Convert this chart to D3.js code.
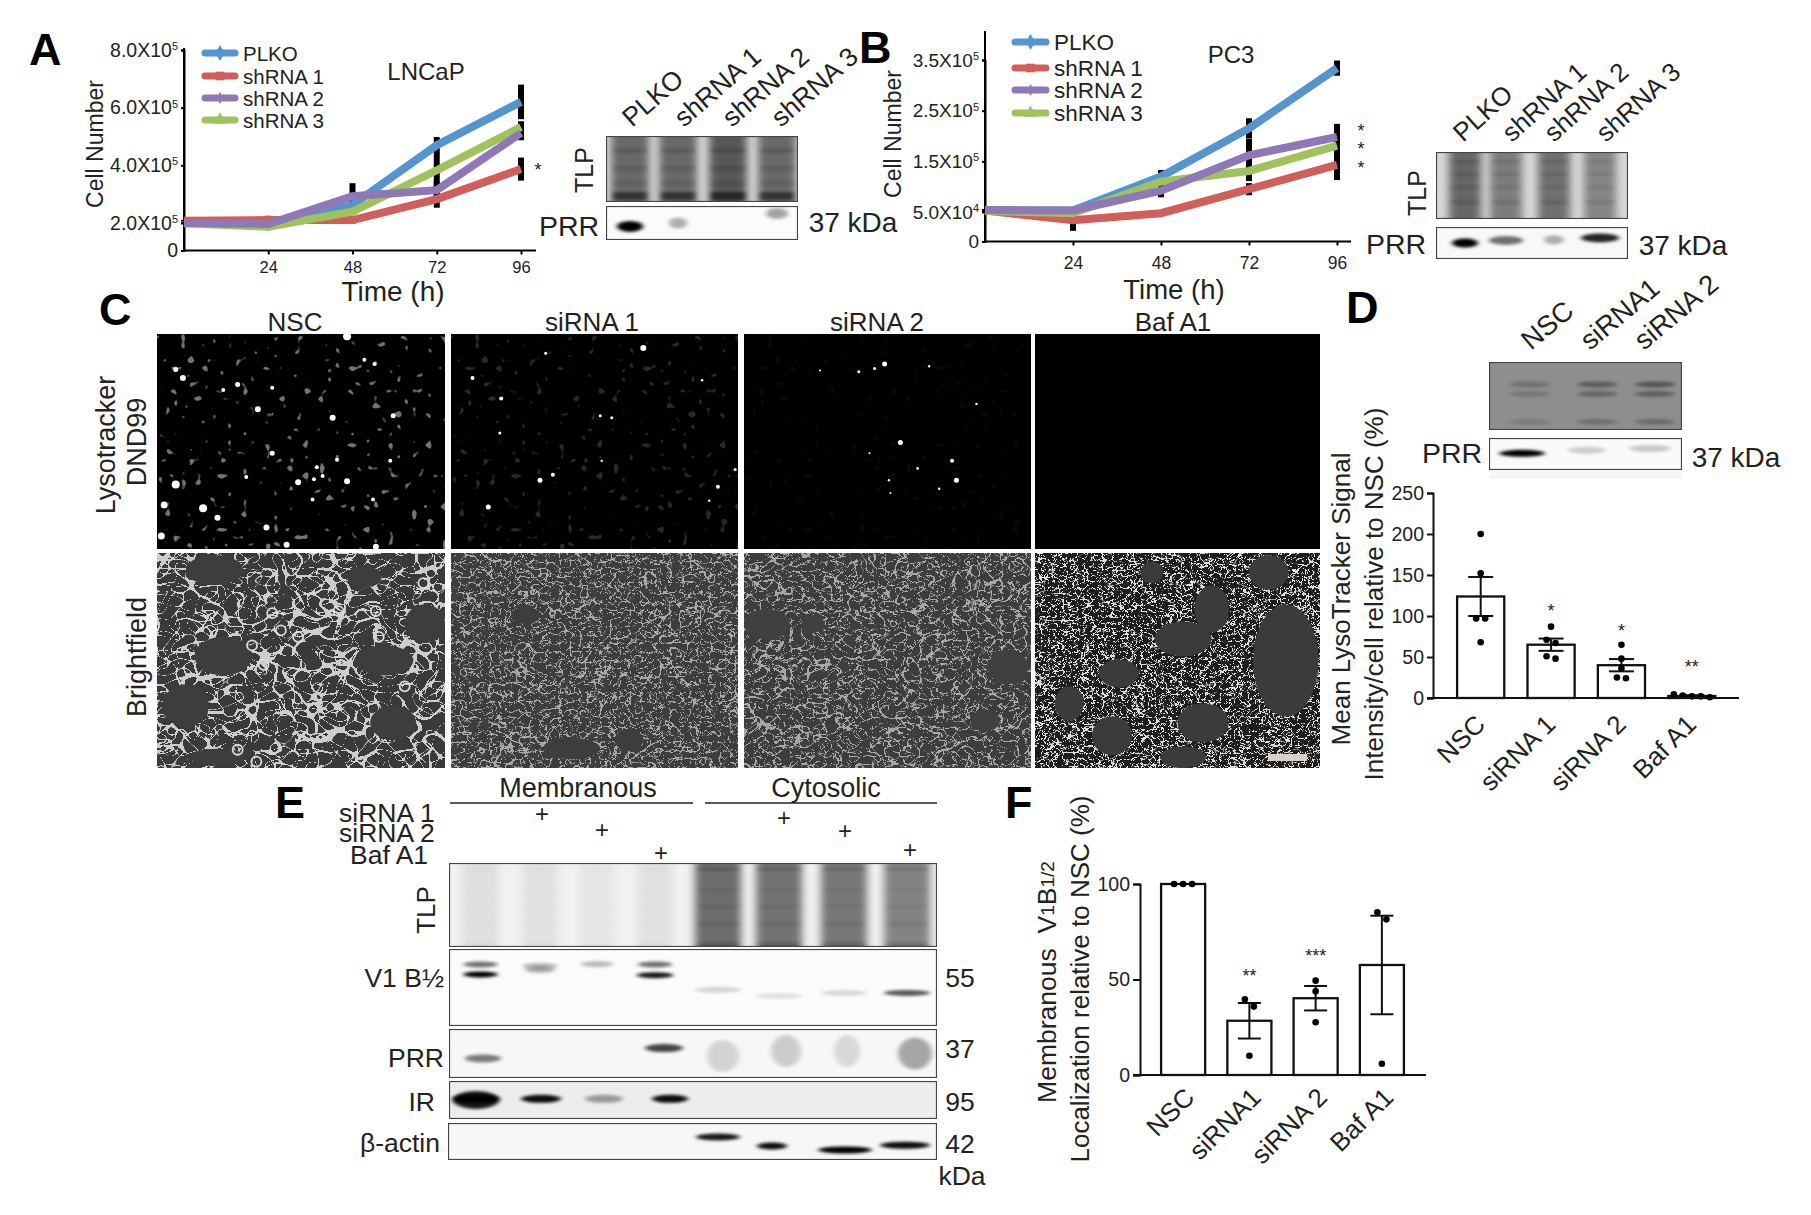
<!DOCTYPE html>
<html>
<head>
<meta charset="utf-8">
<script src="https://cdn.jsdelivr.net/npm/d3@7"></script>
<style>
body { margin: 0; background: #fff; }
text { font-family: "Liberation Sans", Arial, sans-serif; fill: #222; }
</style>
</head>
<body>
<div id="canva"></div>
<script>
// growth curves, values in units of 10^5 cells
const seriesNames = ["PLKO", "shRNA 1", "shRNA 2", "shRNA 3"];
const seriesColors = ["#5595cf", "#d05f5b", "#8f78b6", "#a0c25c"];
const hours = [0, 24, 48, 72, 96];
const hourLabels = [24, 48, 72, 96];

const lncapPlko = [2.0, 1.95, 2.62, 4.7, 6.2];
const lncapSh1 = [2.08, 2.1, 2.1, 2.83, 3.87];
const lncapSh2 = [2.0, 1.93, 2.93, 3.14, 5.12];
const lncapSh3 = [1.98, 1.73, 2.39, 3.83, 5.33];
const lncapPlkoErr = [0.03, 0.05, 0.15, 0.28, 0.6];
const lncapSh1Err = [0.03, 0.15, 0.14, 0.3, 0.4];
const lncapSh2Err = [0.03, 0.1, 0.45, 0.3, 0.25];
const lncapSh3Err = [0.03, 0.25, 0.1, 0.6, 0.2];
const lncapTicks = [0, 2, 4, 6, 8];
const lncapTickText = ["0", "2.0X10", "4.0X10", "6.0X10", "8.0X10"];
const lncapTickExp = ["", "5", "5", "5", "5"];
const lncapStars = [3.85];

const pc3Plko = [0.53, 0.53, 1.2, 2.15, 3.34];
const pc3Sh1 = [0.53, 0.36, 0.48, 0.95, 1.43];
const pc3Sh2 = [0.54, 0.53, 0.92, 1.62, 1.98];
const pc3Sh3 = [0.52, 0.48, 1.1, 1.31, 1.81];
const pc3PlkoErr = [0.02, 0.03, 0.13, 0.2, 0.15];
const pc3Sh1Err = [0.02, 0.18, 0.05, 0.12, 0.3];
const pc3Sh2Err = [0.02, 0.03, 0.13, 0.32, 0.26];
const pc3Sh3Err = [0.02, 0.03, 0.05, 0.2, 0.3];
const pc3Ticks = [0, 0.5, 1.5, 2.5, 3.5];
const pc3TickText = ["0", "5.0X10", "1.5X10", "2.5X10", "3.5X10"];
const pc3TickExp = ["", "4", "5", "5", "5"];
const pc3Stars = [2.09, 1.75, 1.36];

// bar panels
const lysoGroups = ["NSC", "siRNA 1", "siRNA 2", "Baf A1"];
const lysoMeans = [123.8, 65, 40, 2.4];
const lysoErr = [23.8, 7.5, 7.5, 1];
const lysoDots = [[200, 152, 97, 97, 68], [87, 71, 67, 51, 48], [65, 48, 36, 25, 24], [4.5, 3, 2, 2, 1]];
const lysoStars = [null, 105.5, 82, 38];
const lysoStarText = ["", "*", "*", "**"];
const lysoTicks = [0, 50, 100, 150, 200, 250];

const memGroups = ["NSC", "siRNA1", "siRNA 2", "Baf A1"];
const memMeans = [100, 28.4, 40.2, 57.6];
const memErr = [0, 9.3, 6.4, 25.8];
const memDots = [[100, 100, 100], [39.6, 35.8, 10.1], [49.4, 43.8, 27.6], [85.2, 81.5, 5.9]];
const memStars = [null, 52, 62.5, null];
const memStarText = ["", "**", "***", ""];
const memTicks = [0, 50, 100];

// band strength per lane (0 = nothing, 1 = black)
const aPrrBands = [1, 0.3, 0, 0.35];
const bPrrBands = [1, 0.55, 0.3, 0.85];
const dPrrBands = [1, 0.18, 0.2];
const aTlpLanes = [0.52, 0.52, 0.6, 0.52];
const bTlpLanes = [0.52, 0.42, 0.48, 0.38];
const dTlpBands = [0.2, 0.35, 0.4];
const eTlpLanes = [0.07, 0.06, 0.04, 0.06, 0.55, 0.52, 0.5, 0.45];
const eV1Lower = [1, 0.3, 0.15, 0.9, 0.15, 0.1, 0.13, 0.65];
const eV1Upper = [0.55, 0.28, 0.12, 0.55, 0, 0, 0, 0];
const ePrrMem = [0.5, 0, 0, 0.72];
const ePrrCyt = [0.14, 0.17, 0.12, 0.32];
const eIrBands = [1, 0.95, 0.35, 0.95, 0, 0, 0, 0];
const eActinBands = [0.9, 0.95, 1, 0.95];

const nscSpots = [[.09,.205,3],[.065,.165,2.5],[.23,.26,2],[.28,.235,2.5],[.4,.25,2],[.35,.35,3],[.61,.39,3],[.82,.38,2.5],[.72,.12,2],[.755,.14,2],[.4,.555,2.5],[.49,.69,3],[.555,.62,2],[.575,.66,2],[.625,.585,2],[.66,.685,3],[.545,.675,2],[.065,.7,4],[.025,.795,3.5],[.16,.81,4],[.21,.855,3],[.38,.9,3],[.015,.94,3.5],[.75,.77,2],[.54,.77,2],[.31,.665,2],[.81,.59,2],[.66,.01,4],[.45,.98,3],[.76,.99,3]];
const si1Spots = [[.67,.065,3],[.075,.205,2],[.175,.3,2],[.52,.38,1.5],[.56,.39,1.5],[.31,.68,2.5],[.355,.655,2],[.13,.805,2.5],[.93,.71,2],[.875,.215,1.2],[.525,.59,1.2],[.99,.63,1.5],[.17,.46,1.5],[.9,.775,1.2],[.33,.09,1.5]];
const si2Spots = [[.49,.14,2.5],[.455,.16,1.5],[.4,.175,1.5],[.645,.15,1.2],[.265,.17,1],[.545,.505,2.5],[.725,.59,2],[.74,.68,2.5],[.81,.325,1.2],[.605,.625,1.3],[.505,.68,1.2],[.51,.74,1],[.68,.72,1.2],[.437,.555,1]];
const nscVoids = [[.2,.08,.1,.07],[.23,.48,.1,.09],[.79,.5,.1,.07],[.93,.33,.07,.09],[.1,.71,.08,.1],[.82,.79,.08,.08],[.72,.11,.06,.05],[.21,.95,.1,.04]];
const si1Voids = [[.26,.29,.05,.04],[.42,.91,.1,.05],[.62,.87,.05,.05]];
const si2Voids = [[.08,.33,.08,.07],[.92,.53,.07,.08],[.84,.78,.05,.05],[.24,.33,.04,.04]];
const bafVoids = [[.88,.5,.115,.26],[.62,.26,.06,.11],[.52,.4,.1,.08],[.295,.56,.07,.065],[.12,.7,.05,.08],[.27,.85,.07,.09],[.59,.79,.09,.09],[.52,.95,.08,.05],[.82,.09,.07,.08],[.41,.09,.04,.05]];
const nscRings = [[.63,.27],[.43,.36],[.4,.28],[.49,.39],[.76,.27],[.86,.62],[.33,.43],[.37,.52],[.28,.915],[.345,.97],[.925,.14],[.77,.39]];

const svg = d3.select("#canva").append("svg").attr("width", 1811).attr("height", 1215);
const defs = svg.append("defs");

function blurFilter(id, sx, sy) {
    defs.append("filter").attr("id", id).attr("x", "-50%").attr("y", "-50%").attr("width", "200%").attr("height", "200%")
        .append("feGaussianBlur").attr("stdDeviation", sx + " " + sy);
}
blurFilter("soft", 0.7, 0.7);
blurFilter("band", 2.5, 1.4);
blurFilter("smear", 4, 3);

// two crossed noise fields, their zero lines read as cell outlines
function meshFilter(id, freq, seed, k) {
    const f = defs.append("filter").attr("id", id).attr("x", 0).attr("y", 0).attr("width", "100%").attr("height", "100%")
        .attr("color-interpolation-filters", "sRGB");
    const toOpaque = "1 0 0 0 0  1 0 0 0 0  1 0 0 0 0  0 0 0 0 1";
    f.append("feTurbulence").attr("type", "turbulence").attr("baseFrequency", freq).attr("numOctaves", 1).attr("seed", seed);
    f.append("feColorMatrix").attr("values", toOpaque).attr("result", "a");
    f.append("feTurbulence").attr("type", "turbulence").attr("baseFrequency", `${freq * 0.73} ${freq * 1.21}`).attr("numOctaves", 1).attr("seed", seed + 7);
    f.append("feColorMatrix").attr("values", toOpaque).attr("result", "c");
    f.append("feBlend").attr("in", "a").attr("in2", "c").attr("mode", "darken");
    f.append("feColorMatrix").attr("values", `0 0 0 0 1  0 0 0 0 1  0 0 0 0 1  ${-k} 0 0 0 1`);
}
meshFilter("mesh1", 0.05, 3, 55);
meshFilter("mesh2", 0.1, 5, 42);
meshFilter("mesh3", 0.085, 8, 42);
meshFilter("mesh4", 0.14, 11, 26);

const speck = defs.append("filter").attr("id", "speck").attr("x", 0).attr("y", 0).attr("width", "100%").attr("height", "100%")
    .attr("color-interpolation-filters", "sRGB");
speck.append("feTurbulence").attr("type", "fractalNoise").attr("baseFrequency", 0.13).attr("numOctaves", 1).attr("seed", 4);
speck.append("feColorMatrix").attr("values", "0 0 0 0 1  0 0 0 0 1  0 0 0 0 1  14 0 0 0 -9.2");
speck.append("feGaussianBlur").attr("stdDeviation", 0.6);

function label(g, text, x, y, size, opts) {
    const o = opts || {};
    const t = g.append("text").attr("font-size", size).attr("text-anchor", o.anchor || "middle")
        .attr("dominant-baseline", o.base || "central").text(text);
    t.attr("transform", `translate(${x},${y})` + (o.rotate ? ` rotate(${o.rotate})` : ""));
    if (o.weight) t.attr("font-weight", o.weight);
    return t;
}

function panelLetter(text, x, y) {
    label(svg, text, x, y, 45, { anchor: "start", base: "auto", weight: "bold" }).style("fill", "#000");
}

// ---- growth curves ----
function growthChart(c) {
    const g = svg.append("g");
    const x = d3.scaleLinear().domain([0, 96]).range([c.left, c.right]);
    const y = d3.scaleLinear().domain(c.yDomain).range(c.yRange);

    const yAxis = g.append("g").attr("transform", `translate(${c.left},0)`)
        .call(d3.axisLeft(y).tickValues(c.ticks).tickSize(3).tickPadding(3).tickFormat(""));
    yAxis.selectAll(".tick text").each(function (d, i) {
        const t = d3.select(this).attr("font-size", c.tickSize).text(c.tickText[i]);
        if (c.tickExp[i]) t.append("tspan").attr("font-size", 11).attr("dy", "-0.6em").text(c.tickExp[i]);
    });
    g.append("line").attr("x1", c.left).attr("x2", c.left).attr("y1", c.axisTop).attr("y2", c.yRange[0]);

    const xAxis = g.append("g").attr("transform", `translate(0,${c.yRange[0]})`)
        .call(d3.axisBottom(x).tickValues(hourLabels).tickSize(4).tickPadding(c.xPad));
    xAxis.selectAll("text").attr("font-size", c.xTickSize);
    xAxis.select(".domain").remove();
    g.append("line").attr("x1", c.left).attr("x2", c.axisEnd).attr("y1", c.yRange[0]).attr("y2", c.yRange[0]);
    g.selectAll("line, path.domain").attr("stroke", "#000").attr("stroke-width", 2);

    c.values.forEach((vals, s) => {
        g.append("g").selectAll("line").data(hours).enter().append("line")
            .attr("x1", d => x(d)).attr("x2", d => x(d))
            .attr("y1", (d, i) => y(vals[i] - c.errors[s][i]))
            .attr("y2", (d, i) => y(vals[i] + c.errors[s][i]))
            .attr("stroke", "#000").attr("stroke-width", 6);
    });

    const line = d3.line().x((d, i) => x(hours[i])).y(d => y(d));
    [0, 1, 3, 2].forEach(s => {
        g.append("path").attr("d", line(c.values[s])).attr("fill", "none")
            .attr("stroke", seriesColors[s]).attr("stroke-width", 8).attr("stroke-linejoin", "miter");
    });

    const symbols = [d3.symbolDiamond, d3.symbolSquare, d3.symbolAsterisk, d3.symbolTriangle];
    seriesNames.forEach((name, s) => {
        const ly = c.legendY[s];
        g.append("line").attr("x1", c.legendX).attr("x2", c.legendX + c.legendW).attr("y1", ly).attr("y2", ly)
            .attr("stroke", seriesColors[s]).attr("stroke-width", 7).attr("stroke-linecap", "round");
        g.append("path").attr("d", d3.symbol().type(symbols[s]).size(75)())
            .attr("transform", `translate(${c.legendX + c.legendW / 2},${ly})`)
            .attr("fill", seriesColors[s]).attr("stroke", seriesColors[s]).attr("stroke-width", s === 2 ? 2 : 0);
        label(g, name, c.legendX + c.legendW + 8, ly, c.legendSize, { anchor: "start" });
    });

    label(g, c.title, c.titleX, c.titleY, 24);
    label(g, "Cell Number", c.yTitleX, c.yTitleY, 23, { rotate: -90 });
    label(g, "Time (h)", c.xTitleX, c.xTitleY, c.xTitleSize);
    c.stars.forEach(v => label(g, "*", x(96) + c.starDx, y(v), 18));
}

growthChart({
    left: 184, right: 521, axisEnd: 536, axisTop: 48, yDomain: [0, 2, 8], yRange: [250.5, 223, 50],
    ticks: lncapTicks, tickText: lncapTickText, tickExp: lncapTickExp, tickSize: 19.5, xTickSize: 16.5, xPad: 7,
    values: [lncapPlko, lncapSh1, lncapSh2, lncapSh3], errors: [lncapPlkoErr, lncapSh1Err, lncapSh2Err, lncapSh3Err],
    legendX: 205, legendW: 30, legendY: [53, 76, 98, 120], legendSize: 20.5,
    title: "LNCaP", titleX: 426, titleY: 71, yTitleX: 95, yTitleY: 144, xTitleX: 393, xTitleY: 291, xTitleSize: 28,
    stars: lncapStars, starDx: 17
});
growthChart({
    left: 985, right: 1337, axisEnd: 1351, axisTop: 31, yDomain: [0, 0.5, 3.5], yRange: [241.5, 212, 60],
    ticks: pc3Ticks, tickText: pc3TickText, tickExp: pc3TickExp, tickSize: 19, xTickSize: 17.5, xPad: 11,
    values: [pc3Plko, pc3Sh1, pc3Sh2, pc3Sh3], errors: [pc3PlkoErr, pc3Sh1Err, pc3Sh2Err, pc3Sh3Err],
    legendX: 1015, legendW: 31, legendY: [42, 68, 90, 113], legendSize: 22.5,
    title: "PC3", titleX: 1231, titleY: 54, yTitleX: 893, yTitleY: 134, xTitleX: 1174, xTitleY: 289, xTitleSize: 27.5,
    stars: pc3Stars, starDx: 24
});

// ---- blots ----
function blotFrame(x0, y0, w, h, bg, border) {
    const outer = svg.append("svg").attr("x", x0).attr("y", y0).attr("width", w).attr("height", h);
    outer.append("rect").attr("width", w).attr("height", h).attr("fill", bg);
    outer.border = () => outer.append("rect").attr("x", 0.5).attr("y", 0.5).attr("width", w - 1).attr("height", h - 1)
        .attr("fill", "none").attr("stroke", border || "#444").attr("stroke-width", 1.2);
    outer.boxX = x0; outer.boxY = y0; outer.boxW = w; outer.boxH = h;
    return outer;
}

function bands(blot, laneX, strengths, fy, bw, bh, filter) {
    const x = d3.scaleLinear().domain([blot.boxX, blot.boxX + blot.boxW]).range([0, blot.boxW]);
    const y = d3.scaleLinear().domain([0, 1]).range([0, blot.boxH]);
    blot.append("g").selectAll("ellipse").data(strengths).enter().append("ellipse")
        .attr("cx", (d, i) => x(laneX[i]))
        .attr("cy", (d, i) => y(Array.isArray(fy) ? fy[i] : fy))
        .attr("rx", (d, i) => Array.isArray(bw) ? bw[i] / 2 : bw / 2).attr("ry", bh / 2)
        .attr("fill", "#000").attr("opacity", d => d)
        .attr("filter", `url(#${filter || "band"})`);
}

function smearLanes(blot, laneX, strengths, laneW, stripes) {
    const x = d3.scaleLinear().domain([blot.boxX, blot.boxX + blot.boxW]).range([0, blot.boxW]);
    const y = d3.scaleLinear().domain([0, 1]).range([0, blot.boxH]);
    const w = i => Array.isArray(laneW) ? laneW[i] : laneW;
    blot.append("g").selectAll("rect").data(strengths).enter().append("rect")
        .attr("x", (d, i) => x(laneX[i]) - w(i) / 2).attr("width", (d, i) => w(i))
        .attr("y", -10).attr("height", blot.boxH + 20)
        .attr("fill", "#000").attr("opacity", d => d).attr("filter", "url(#smear)");
    stripes.forEach(s => {
        blot.append("g").selectAll("rect").data(strengths).enter().append("rect")
            .attr("x", (d, i) => x(laneX[i]) - w(i) / 2 + 2).attr("width", (d, i) => w(i) - 4)
            .attr("y", y(s[0])).attr("height", s[2])
            .attr("fill", "#000").attr("opacity", d => d * s[1]).attr("filter", "url(#band)");
    });
}

// panel A blots
const aLanes = [630, 678, 728, 777];
let b = blotFrame(606, 136, 192, 66, "#dcdcdc");
smearLanes(b, aLanes, aTlpLanes, 38, [[0.18, 0.25, 5], [0.45, 0.2, 5], [0.68, 0.15, 5], [0.85, 0.95, 8]]);
b.border();
b = blotFrame(606, 206, 192, 34, "#fbfbfb");
bands(b, aLanes, aPrrBands, [0.6, 0.5, 0.5, 0.22], [26, 18, 10, 22], 11);
b.border();
[["PLKO", 632], ["shRNA 1", 684], ["shRNA 2", 732], ["shRNA 3", 781]].forEach(d => label(svg, d[0], d[1], 128, 26.5, { anchor: "start", base: "auto", rotate: -41 }));
label(svg, "TLP", 584, 170, 25, { rotate: -90 });
label(svg, "PRR", 569, 226, 28.5);
label(svg, "37 kDa", 853, 222, 28);

// panel B blots
const bLanes = [1465, 1506, 1554, 1600];
b = blotFrame(1436, 152, 192, 67, "#d8d8d8");
smearLanes(b, bLanes, bTlpLanes, 32, [[0.12, 0.2, 4], [0.3, 0.2, 4], [0.5, 0.2, 4], [0.72, 0.25, 4]]);
b.border();
b = blotFrame(1436, 227, 192, 32, "#f8f8f8");
bands(b, bLanes, bPrrBands, [0.5, 0.42, 0.4, 0.34], [26, 34, 20, 38], 9);
b.border();
[["PLKO", 1463], ["shRNA 1", 1512], ["shRNA 2", 1554], ["shRNA 3", 1606]].forEach(d => label(svg, d[0], d[1], 143, 26, { anchor: "start", base: "auto", rotate: -42 }));
label(svg, "TLP", 1417, 193, 25, { rotate: -90 });
label(svg, "PRR", 1396, 244, 28.5);
label(svg, "37 kDa", 1683, 245, 28);

// ---- micrographs ----
function micrograph(x0, y0, w, h, bg, draw) {
    const m = svg.append("svg").attr("x", x0).attr("y", y0).attr("width", w).attr("height", h);
    m.append("rect").attr("width", w).attr("height", h).attr("fill", bg);
    const fx = d3.scaleLinear().domain([0, 1]).range([0, w]);
    const fy = d3.scaleLinear().domain([0, 1]).range([0, h]);
    draw(m, fx, fy);
}

function fluorescence(spots, speckle) {
    return (m, fx, fy) => {
        if (speckle) m.append("rect").attr("width", "100%").attr("height", "100%").attr("fill", "#fff")
            .attr("filter", "url(#speck)").attr("opacity", speckle);
        m.append("g").selectAll("circle").data(spots).enter().append("circle")
            .attr("cx", d => fx(d[0])).attr("cy", d => fy(d[1])).attr("r", d => d[2])
            .attr("fill", "#fff").attr("filter", "url(#soft)");
    };
}

function brightfield(filterId, opacity, voids, voidFill, rings) {
    return (m, fx, fy) => {
        m.append("rect").attr("width", "100%").attr("height", "100%").attr("fill", "#fff")
            .attr("filter", `url(#${filterId})`).attr("opacity", opacity);
        m.append("g").selectAll("ellipse").data(voids).enter().append("ellipse")
            .attr("cx", d => fx(d[0])).attr("cy", d => fy(d[1]))
            .attr("rx", d => fx(d[2])).attr("ry", d => fy(d[3]))
            .attr("fill", voidFill).attr("filter", "url(#soft)");
        if (rings) m.append("g").selectAll("circle").data(rings).enter().append("circle")
            .attr("cx", d => fx(d[0])).attr("cy", d => fy(d[1])).attr("r", 5)
            .attr("fill", "none").attr("stroke", "#ddd").attr("stroke-width", 1.8);
    };
}

micrograph(157, 334, 288, 215, "#000", fluorescence(nscSpots, 0.45));
micrograph(451, 334, 287, 215, "#000", fluorescence(si1Spots, 0.16));
micrograph(744, 334, 287, 215, "#000", fluorescence(si2Spots, 0.03));
micrograph(1035, 334, 285, 215, "#000", fluorescence([], 0));
micrograph(157, 553, 288, 215, "#3a3a3a", brightfield("mesh1", 0.75, nscVoids, "#3c3c3c", nscRings));
micrograph(451, 553, 287, 215, "#3d3d3d", brightfield("mesh2", 0.55, si1Voids, "#3d3d3d"));
micrograph(744, 553, 287, 215, "#3d3d3d", brightfield("mesh3", 0.55, si2Voids, "#3f3f3f"));
micrograph(1035, 553, 285, 215, "#1d1d1d", brightfield("mesh4", 0.85, bafVoids, "#3b3b3b"));
svg.append("rect").attr("x", 1268).attr("y", 754).attr("width", 39).attr("height", 7).attr("fill", "#d8cfc8");

label(svg, "NSC", 295, 322, 26);
label(svg, "siRNA 1", 592, 322, 26);
label(svg, "siRNA 2", 877, 322, 26);
label(svg, "Baf A1", 1173, 322, 26);
label(svg, "Lysotracker", 106, 445, 27, { rotate: -90 });
label(svg, "DND99", 137, 442, 27, { rotate: -90 });
label(svg, "Brightfield", 137, 657, 27, { rotate: -90 });

// panel D blots
const dLanes = [1530, 1597, 1655];
b = blotFrame(1489, 362, 193, 68, "#8e8e8e");
[[0.33, 1], [0.47, 0.8], [0.88, 0.6]].forEach(s => bands(b, dLanes, dTlpBands.map(v => v * s[1]), s[0], [40, 40, 40], 6));
b.border("#555");
svg.append("rect").attr("x", 1489).attr("y", 470).attr("width", 193).attr("height", 9).attr("fill", "#f6f6f6");
b = blotFrame(1489, 438, 193, 32, "#fafafa");
bands(b, [1522, 1587, 1650], dPrrBands, [0.48, 0.38, 0.33], [46, 38, 42], 7);
b.border();
[["NSC", 1531], ["siRNA1", 1590], ["siRNA 2", 1644]].forEach(d => label(svg, d[0], d[1], 351, 27.5, { anchor: "start", base: "auto", rotate: -40 }));
label(svg, "PRR", 1452, 453, 28.5);
label(svg, "37 kDa", 1736, 457, 28);

// ---- bar panels ----
function barChart(c) {
    const g = svg.append("g");
    const x = d3.scaleBand().domain(c.groups).range(c.xRange).paddingInner(c.pad).paddingOuter(c.pad / 2);
    const y = d3.scaleLinear().domain(c.yDomain).range(c.yRange);

    const cx = d => x(d) + x.bandwidth() / 2;
    g.selectAll("rect.bar").data(c.groups).enter().append("rect").attr("class", "bar")
        .attr("x", d => x(d)).attr("width", x.bandwidth())
        .attr("y", (d, i) => y(c.means[i])).attr("height", (d, i) => y(0) - y(c.means[i]))
        .attr("fill", "#fff").attr("stroke", "#111").attr("stroke-width", 2.3);

    c.groups.forEach((name, i) => {
        const e = c.errs[i];
        if (!e) return;
        const top = y(c.means[i] + e), bot = y(c.means[i] - e);
        g.append("line").attr("x1", cx(name)).attr("x2", cx(name)).attr("y1", top).attr("y2", bot);
        [top, bot].forEach(v => g.append("line").attr("x1", cx(name) - c.cap).attr("x2", cx(name) + c.cap).attr("y1", v).attr("y2", v));
    });
    g.selectAll("line").attr("stroke", "#111").attr("stroke-width", 2);

    // dots with nearly equal values are spread sideways
    c.groups.forEach((name, i) => {
        const runs = [];
        c.dots[i].forEach(v => {
            const last = runs[runs.length - 1];
            if (last && y(v) - y(last[last.length - 1]) < 8) last.push(v);
            else runs.push([v]);
        });
        runs.forEach(run => run.forEach((v, k) => {
            g.append("circle").attr("cx", cx(name) + (k - (run.length - 1) / 2) * 9).attr("cy", y(v)).attr("r", 3.3).attr("fill", "#000");
        }));
        if (c.stars[i] !== null) label(g, c.starText[i], cx(name), y(c.stars[i]), 18);
    });

    const yAxis = g.append("g").attr("transform", `translate(${c.xAxisLeft + c.tick},0)`)
        .call(d3.axisLeft(y).tickValues(c.ticks).tickSize(c.tick).tickPadding(3));
    yAxis.selectAll("text").attr("font-size", c.tickFont);
    const xAxis = g.append("g").attr("transform", `translate(0,${y(0)})`)
        .call(d3.axisBottom(x).tickSize(0));
    xAxis.select(".domain").remove();
    xAxis.selectAll("text").attr("font-size", 26).attr("text-anchor", "end").attr("dy", 0).attr("y", 0)
        .attr("transform", d => `translate(${c.labelDx},${c.labelDy}) rotate(-45)`);
    g.append("line").attr("x1", c.xAxisLeft).attr("x2", c.xAxisEnd).attr("y1", y(0)).attr("y2", y(0));
    g.selectAll("path.domain, .tick line").attr("stroke", "#111");
    g.selectAll("path.domain, .tick line").attr("stroke-width", 2);
    g.selectAll("g > line").attr("stroke", "#111").attr("stroke-width", 2);
    return g;
}

barChart({
    groups: lysoGroups, means: lysoMeans, errs: lysoErr, dots: lysoDots, stars: lysoStars, starText: lysoStarText,
    xRange: [1445.5, 1727], pad: 0.33, yDomain: [0, 250], yRange: [698, 493], cap: 12.5,
    ticks: lysoTicks, tick: 6, tickFont: 19.5, xAxisLeft: 1427, xAxisEnd: 1739, labelDx: 6, labelDy: 28
});
label(svg, "Mean LysoTracker Signal", 1341, 599, 26, { rotate: -90 });
label(svg, "Intensity/cell relative to NSC (%)", 1374, 594, 26, { rotate: -90 });

barChart({
    groups: memGroups, means: memMeans, errs: memErr, dots: memDots, stars: memStars, starText: memStarText,
    xRange: [1150, 1415], pad: 0.335, yDomain: [0, 100], yRange: [1075, 884], cap: 11.5,
    ticks: memTicks, tick: 7, tickFont: 19.5, xAxisLeft: 1133, xAxisEnd: 1426, labelDx: 13, labelDy: 24
});
const memTitle = label(svg, "", 1047, 982, 26.5, { rotate: -90 });
memTitle.append("tspan").text("Membranous\u00a0\u00a0V");
memTitle.append("tspan").attr("font-size", 19).text("1");
memTitle.append("tspan").text("B");
memTitle.append("tspan").attr("font-size", 19).text("1/2");
label(svg, "Localization relative to NSC (%)", 1080, 979, 26, { rotate: -90 });

// ---- panel E ----
const eLanes = [480.5, 540, 597, 655, 718, 779, 844, 907];
svg.append("line").attr("x1", 450).attr("x2", 693).attr("y1", 803).attr("y2", 803).attr("stroke", "#222").attr("stroke-width", 1.3);
svg.append("line").attr("x1", 705).attr("x2", 937).attr("y1", 803).attr("y2", 803).attr("stroke", "#222").attr("stroke-width", 1.3);
label(svg, "Membranous", 578, 788, 27);
label(svg, "Cytosolic", 826, 788, 27);
label(svg, "siRNA 1", 339, 813, 26.5, { anchor: "start" });
label(svg, "siRNA 2", 339, 833, 26.5, { anchor: "start" });
label(svg, "Baf A1", 350, 855, 26.5, { anchor: "start" });
[[542, 813], [602, 829], [661, 852], [784, 817], [845, 830], [910, 849]].forEach(d => label(svg, "+", d[0], d[1], 24));

b = blotFrame(449, 863, 488, 84, "#f1f1f1");
smearLanes(b, eLanes, eTlpLanes, [36, 36, 36, 36, 46, 46, 46, 46], [[0.3, 0.12, 3], [0.5, 0.15, 3], [0.7, 0.15, 4], [0.95, 0.4, 6], [0.05, 0.25, 4]]);
b.border();
b = blotFrame(449, 949, 488, 77, "#fbfbfb");
bands(b, eLanes, eV1Upper, [0.2, 0.22, 0.19, 0.2, 0, 0, 0, 0], [34, 34, 34, 34, 10, 10, 10, 10], 6);
bands(b, eLanes, eV1Lower, [0.33, 0.27, 0.2, 0.34, 0.53, 0.61, 0.57, 0.57], [34, 30, 30, 36, 46, 46, 46, 46], 6);
b.border("#666");
b = blotFrame(449, 1029, 488, 49, "#f7f7f7");
bands(b, [483, 540, 597, 664], ePrrMem, [0.6, 0.5, 0.5, 0.39], [36, 10, 10, 38], 8);
bands(b, [723, 786, 847, 915], ePrrCyt, [0.55, 0.45, 0.45, 0.5], [32, 30, 26, 34], 32);
b.border();
b = blotFrame(449, 1081, 488, 38, "#ededed");
bands(b, [476, 541, 604, 670, 718, 779, 844, 907], eIrBands, 0.47, [46, 40, 38, 36, 10, 10, 10, 10], 8);
bands(b, [476, 541, 604, 670], [0.9, 0, 0, 0], 0.5, [46, 10, 10, 10], 18);
b.border("#777");
b = blotFrame(448, 1123, 489, 37, "#f7f7f7");
bands(b, [718, 772, 845, 905], eActinBands, [0.38, 0.62, 0.73, 0.6], [44, 30, 54, 50], 7);
b.border("#777");

label(svg, "TLP", 426, 910, 26, { rotate: -90 });
label(svg, "V1 B½", 444, 978, 26.5, { anchor: "end" });
label(svg, "PRR", 444, 1058, 26.5, { anchor: "end" });
label(svg, "IR", 435, 1102, 26.5, { anchor: "end" });
label(svg, "β-actin", 440, 1143, 26.5, { anchor: "end" });
[["55", 978], ["37", 1049], ["95", 1102], ["42", 1144]].forEach(d => label(svg, d[0], 960, d[1], 26.5));
label(svg, "kDa", 962, 1176, 26.5);

panelLetter("A", 29, 65);
panelLetter("B", 859, 63);
panelLetter("C", 99, 325);
panelLetter("D", 1346, 323);
panelLetter("E", 275, 818);
panelLetter("F", 1005, 818);
</script>
</body>
</html>
